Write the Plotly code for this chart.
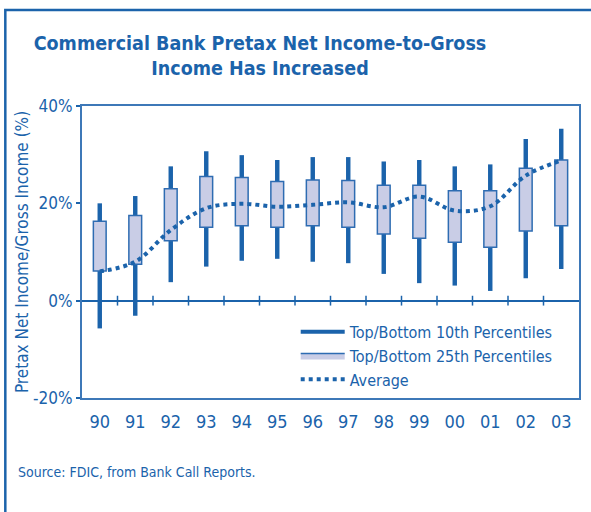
import plotly.graph_objects as go

years = ["90", "91", "92", "93", "94", "95", "96", "97", "98", "99", "00", "01", "02", "03"]
p10_low = [-5.7, -3.1, 3.8, 7.0, 8.2, 8.6, 8.0, 7.7, 5.5, 3.6, 3.1, 2.0, 4.6, 6.5]
p10_high = [20.0, 21.5, 27.6, 30.7, 29.9, 28.9, 29.5, 29.5, 28.6, 28.9, 27.6, 28.0, 33.2, 35.3]
p25_low = [6.1, 7.5, 12.3, 15.1, 15.4, 15.1, 15.4, 15.1, 13.7, 12.8, 12.0, 11.0, 14.3, 15.4]
p25_high = [16.3, 17.5, 23.0, 25.5, 25.3, 24.5, 24.8, 24.7, 23.7, 23.7, 22.6, 22.6, 27.2, 28.9]
average = [6.0, 8.0, 14.5, 19.0, 19.9, 19.3, 19.7, 20.2, 19.2, 21.4, 18.5, 19.4, 25.7, 28.8]
y_ticks = [-20, 0, 20, 40]

BLUE = "#1b63ab"
FILL = "#c9cde6"
FONT = "Liberation Sans Narrow, DejaVu Sans Condensed, Arial Narrow, sans-serif"

idx = list(range(len(years)))

fig = go.Figure()

# whiskers (10th percentiles)
fig.add_trace(go.Bar(
    x=idx, base=p10_low, y=[h - l for h, l in zip(p10_high, p10_low)],
    width=0.125, marker=dict(color=BLUE, line=dict(width=0)),
    showlegend=False, hoverinfo="skip"))
# boxes (25th percentiles)
fig.add_trace(go.Bar(
    x=idx, base=p25_low, y=[h - l for h, l in zip(p25_high, p25_low)],
    width=0.36, marker=dict(color=FILL, line=dict(color="#2e6cb2", width=1.5)),
    showlegend=False, hoverinfo="skip"))
# average
fig.add_trace(go.Scatter(
    x=idx, y=average, mode="lines",
    line=dict(color=BLUE, width=4, dash="4px,4px", shape="spline", smoothing=1),
    name="Average", showlegend=False))

# category tick marks on the zero line
fig.add_trace(go.Scatter(
    x=[i + 0.5 for i in idx[:-1]], y=[0] * (len(idx) - 1), mode="markers",
    marker=dict(symbol="line-ns", size=7, line=dict(color=BLUE, width=1.5)),
    showlegend=False, hoverinfo="skip"))

# legend-only entries
fig.add_trace(go.Scatter(x=[None], y=[None], mode="lines",
                         line=dict(color=BLUE, width=4),
                         name="Top/Bottom 10th Percentiles"))
fig.add_trace(go.Scatter(x=[None], y=[None], mode="lines", fill="toself",
                         fillcolor=FILL, line=dict(color="#2e6cb2", width=1.5),
                         name="Top/Bottom 25th Percentiles"))
fig.add_trace(go.Scatter(x=[None], y=[None], mode="lines",
                         line=dict(color=BLUE, width=4, dash="4px,4px"),
                         name="Average"))

# outer frame
fig.add_shape(type="rect", xref="paper", yref="paper",
              x0=-0.1543, x1=1.06, y0=-0.45, y1=1.3288,
              line=dict(color=BLUE, width=2.5), fillcolor="rgba(0,0,0,0)", layer="below")

fig.update_layout(
    width=591, height=512,
    margin=dict(l=82, r=10, t=106, b=114),
    paper_bgcolor="white", plot_bgcolor="white",
    barmode="overlay",
    font=dict(family=FONT, color=BLUE, size=16),
    title=dict(text="<b>Commercial Bank Pretax Net Income-to-Gross<br>Income Has Increased</b>",
               x=260 / 591, xanchor="center", xref="container",
               y=1 - 50 / 512, yanchor="top",
               font=dict(family=FONT, size=19.5, color=BLUE)),
    showlegend=True,
    legend=dict(x=0.43, y=0.285, xanchor="left", yanchor="top",
                bgcolor="rgba(0,0,0,0)", borderwidth=0, itemwidth=44,
                font=dict(family=FONT, size=16, color=BLUE),
                tracegroupgap=0, traceorder="normal"),
    xaxis=dict(range=[-0.5, len(years) - 0.5], tickvals=idx, ticktext=years,
               showgrid=False, zeroline=False, ticks="",
               showline=True, linecolor="#3d78b8", linewidth=2, mirror=True,
               tickfont=dict(family=FONT, size=18, color=BLUE),
               ticklabelstandoff=6),
    yaxis=dict(range=[-20, 40], tickvals=y_ticks,
               ticktext=[f"{v}%" for v in y_ticks],
               showgrid=False, zeroline=True, zerolinecolor=BLUE, zerolinewidth=2,
               ticks="outside", ticklen=4, tickcolor=BLUE, tickwidth=1.5,
               showline=True, linecolor="#3d78b8", linewidth=2, mirror=True,
               tickfont=dict(family=FONT, size=17, color=BLUE),
               title=dict(text="Pretax Net Income/Gross Income (%)",
                          font=dict(family=FONT, size=17, color=BLUE), standoff=0)),
)

fig.add_annotation(text="Source: FDIC, from Bank Call Reports.",
                   xref="paper", yref="paper",
                   x=(16 - 82) / 499, y=(398 - 472) / 292,
                   xanchor="left", yanchor="middle", showarrow=False,
                   font=dict(family=FONT, size=14, color=BLUE))

fig.write_html("out.html")
